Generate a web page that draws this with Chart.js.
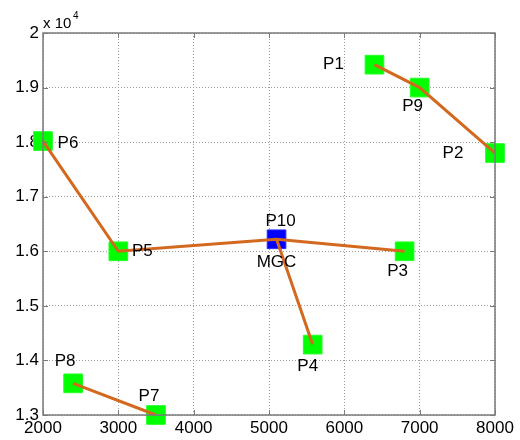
<!DOCTYPE html>
<html>
<head>
<meta charset="utf-8">
<script src="https://cdn.jsdelivr.net/npm/chart.js@4.4.0/dist/chart.umd.min.js"></script>
<style>
  html, body { margin: 0; padding: 0; background: #fff; }
  #wrap { width: 520px; height: 440px; }
</style>
</head>
<body>
<div id="wrap"><canvas id="chart" width="520" height="440"></canvas></div>
<script>
// point data
const names = ['P1', 'P2', 'P3', 'P4', 'P5', 'P6', 'P7', 'P8', 'P9', 'P10'];
const xs = [6400, 8000, 6800, 5580, 3000, 2000, 3500, 2400, 7000, 5100];
const ys = [19420, 17800, 16000, 14290, 16000, 18020, 13000, 13580, 19000, 16220];
const extraLabel = 'MGC'; // second label for P10

// connected chains (by point name)
const chains = [
    ['P1', 'P9', 'P2'],
    ['P6', 'P5', 'P10', 'P3'],
    ['P10', 'P4'],
    ['P8', 'P7']
];

// axis ticks
const xTicks = [2000, 3000, 4000, 5000, 6000, 7000, 8000];
const yTicks = [13000, 14000, 15000, 16000, 17000, 18000, 19000, 20000];

const FONT = 'Liberation Sans, Arial, sans-serif';
const ptOf = name => {
    const i = names.indexOf(name);
    return { x: xs[i], y: ys[i] };
};

// label placement relative to each point (pixels)
const labelOffsets = {
    P1: [-41, 0], P2: [-42, 0], P3: [-7, 20], P4: [-5, 22], P5: [24, 0],
    P6: [25, 2], P7: [-7, -19], P8: [-8, -22], P9: [-7, 19], P10: [4, -18]
};

const decorations = {
    id: 'decorations',
    afterDraw(chart) {
        const { ctx, chartArea: a, scales } = chart;
        ctx.save();
        // axes box
        ctx.strokeStyle = '#7a7a7a';
        ctx.lineWidth = 1.5;
        ctx.strokeRect(a.left, a.top, a.right - a.left, a.bottom - a.top);
        // inward tick marks
        ctx.lineWidth = 1;
        ctx.beginPath();
        xTicks.forEach(v => {
            const px = Math.round(scales.x.getPixelForValue(v)) + 0.5;
            ctx.moveTo(px, a.bottom); ctx.lineTo(px, a.bottom - 5);
            ctx.moveTo(px, a.top); ctx.lineTo(px, a.top + 5);
        });
        yTicks.forEach(v => {
            const py = Math.round(scales.y.getPixelForValue(v)) + 0.5;
            ctx.moveTo(a.left, py); ctx.lineTo(a.left + 5, py);
            ctx.moveTo(a.right, py); ctx.lineTo(a.right - 5, py);
        });
        ctx.stroke();

        // exponent label
        ctx.fillStyle = '#000';
        ctx.textBaseline = 'alphabetic';
        ctx.textAlign = 'left';
        ctx.font = '15px ' + FONT;
        ctx.fillText('x 10', 43, 28);
        ctx.font = '10px ' + FONT;
        ctx.fillText('4', 73, 19);

        // point labels
        ctx.font = '17px ' + FONT;
        ctx.textAlign = 'center';
        ctx.textBaseline = 'middle';
        names.forEach((n, i) => {
            const px = scales.x.getPixelForValue(xs[i]);
            const py = scales.y.getPixelForValue(ys[i]);
            const [dx, dy] = labelOffsets[n];
            ctx.fillText(n, px + dx, py + dy);
        });
        const i10 = names.indexOf('P10');
        ctx.fillText(extraLabel, scales.x.getPixelForValue(xs[i10]),
            scales.y.getPixelForValue(ys[i10]) + 23);
        ctx.restore();
    }
};

const lineSets = chains.map(c => ({
    type: 'scatter',
    data: c.map(ptOf),
    showLine: true,
    borderColor: '#d2691e',
    borderWidth: 3,
    pointRadius: 0,
    pointHoverRadius: 0,
    clip: false,
    order: 1
}));

const markerSet = {
    type: 'scatter',
    data: names.map(ptOf),
    pointStyle: 'rect',
    pointRadius: 13.2,
    pointHoverRadius: 13.2,
    backgroundColor: names.map(n => n === 'P10' ? '#0000ff' : '#00ff00'),
    borderColor: names.map(n => n === 'P10' ? '#2a2aff' : '#22ff22'),
    borderWidth: 1,
    clip: false,
    order: 2
};

new Chart(document.getElementById('chart'), {
    type: 'scatter',
    data: { datasets: [markerSet, ...lineSets] },
    options: {
        responsive: false,
        animation: false,
        events: [],
        layout: { padding: { top: 33, right: 25, left: 0, bottom: 0 } },
        plugins: {
            legend: { display: false },
            tooltip: { enabled: false }
        },
        scales: {
            x: {
                type: 'linear',
                min: 2000,
                max: 8000,
                afterBuildTicks: s => { s.ticks = xTicks.map(v => ({ value: v })); },
                afterFit: s => { s.height = 25; },
                ticks: {
                    color: '#000',
                    font: { family: FONT, size: 17 },
                    padding: 3,
                    maxRotation: 0,
                    callback: v => String(v)
                },
                grid: { color: '#9a9a9a', lineWidth: 1, drawTicks: false },
                border: { display: false, dash: [1, 2] }
            },
            y: {
                type: 'linear',
                min: 13000,
                max: 20000,
                afterBuildTicks: s => { s.ticks = yTicks.map(v => ({ value: v })); },
                afterFit: s => { s.width = 43; },
                ticks: {
                    color: '#000',
                    font: { family: FONT, size: 17 },
                    padding: 4,
                    callback: v => String(Math.round(v / 1000) / 10)
                },
                grid: { color: '#9a9a9a', lineWidth: 1, drawTicks: false },
                border: { display: false, dash: [1, 2] }
            }
        }
    },
    plugins: [decorations]
});
</script>
</body>
</html>
